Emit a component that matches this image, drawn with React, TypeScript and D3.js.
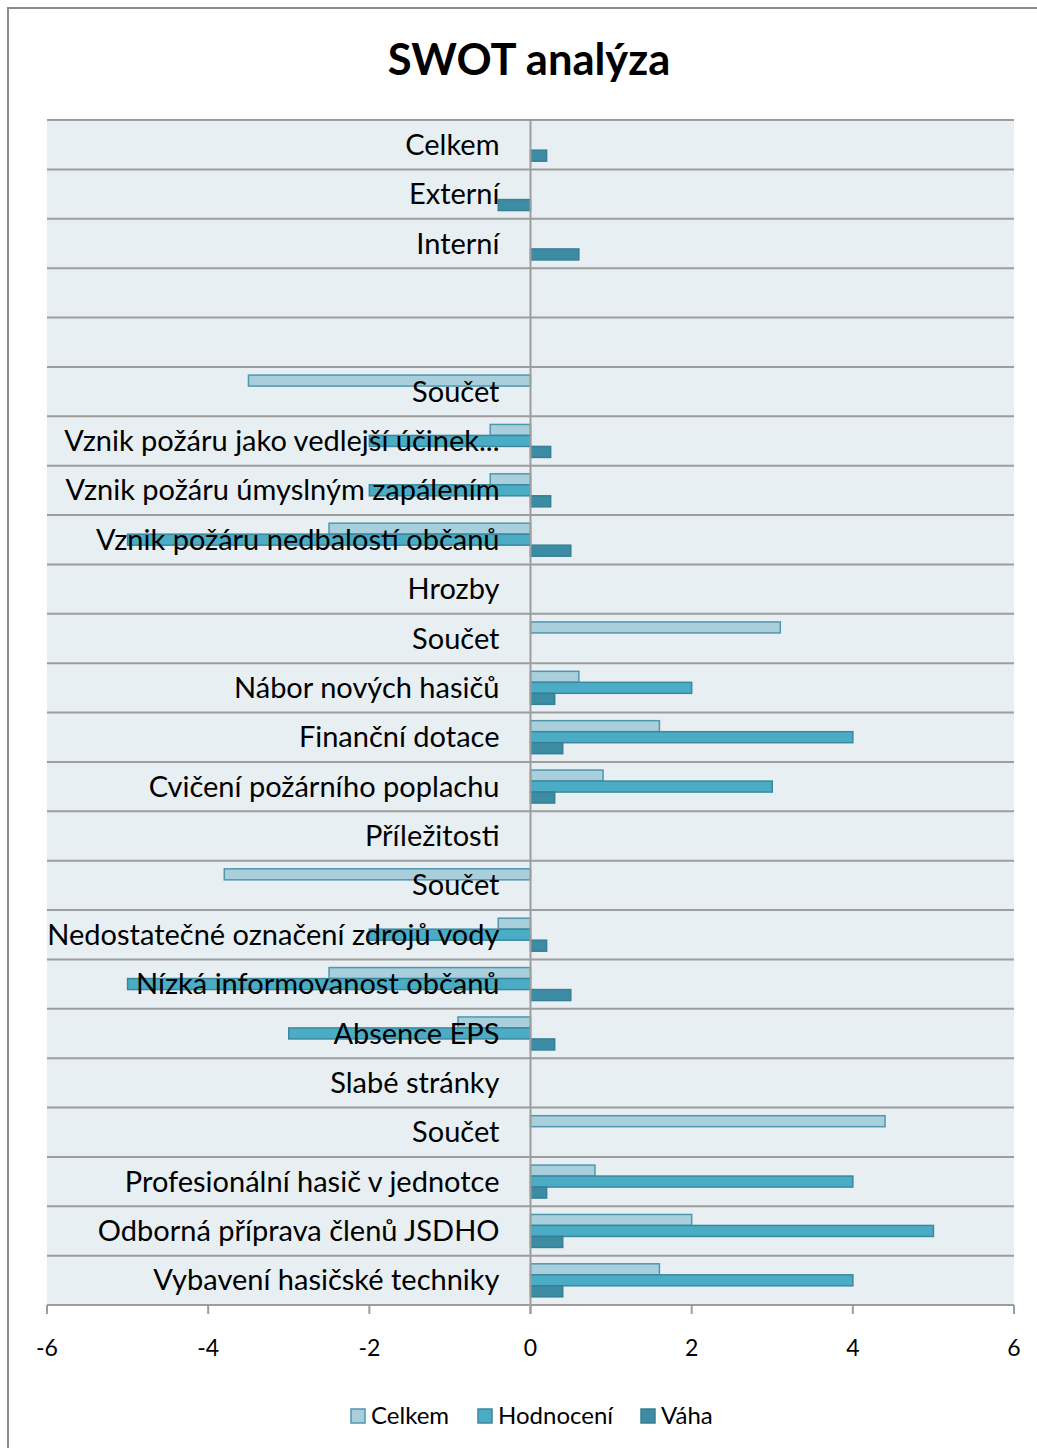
import React from "react";
import * as d3 from "d3";

// categories top to bottom, as on the chart
const categories = [
  "Celkem",
  "Externí",
  "Interní",
  "",
  "",
  "Součet",
  "Vznik požáru jako vedlejší účinek...",
  "Vznik požáru úmyslným zapálením",
  "Vznik požáru nedbalostí občanů",
  "Hrozby",
  "Součet",
  "Nábor nových hasičů",
  "Finanční dotace",
  "Cvičení požárního poplachu",
  "Příležitosti",
  "Součet",
  "Nedostatečné označení zdrojů vody",
  "Nízká informovanost občanů",
  "Absence EPS",
  "Slabé stránky",
  "Součet",
  "Profesionální hasič v jednotce",
  "Odborná příprava členů JSDHO",
  "Vybavení hasičské techniky",
];

const celkem = [null, null, null, null, null, -3.5, -0.5, -0.5, -2.5, null, 3.1, 0.6, 1.6, 0.9, null, -3.8, -0.4, -2.5, -0.9, null, 4.4, 0.8, 2, 1.6];
const hodnoceni = [null, null, null, null, null, null, -2, -2, -5, null, null, 2, 4, 3, null, null, -2, -5, -3, null, null, 4, 5, 4];
const vaha = [0.2, -0.4, 0.6, null, null, null, 0.25, 0.25, 0.5, null, null, 0.3, 0.4, 0.3, null, null, 0.2, 0.5, 0.3, null, null, 0.2, 0.4, 0.4];

const seriesNames = ["Celkem", "Hodnocení", "Váha"];
const xTicks = [-6, -4, -2, 0, 2, 4, 6];

const seriesStyle = [
  { fill: "#a9cfdd", stroke: "#4f97ad" },
  { fill: "#4bacc6", stroke: "#3a889f" },
  { fill: "#3c8ca4", stroke: "#377f95" },
];

const W = 1037;
const H = 1448;
const plot = { left: 47, right: 1014, top: 120, bottom: 1305 };
const FONT = "Lato, 'Open Sans', sans-serif";

export default function App() {
  const x = d3.scaleLinear().domain([-6, 6]).range([plot.left, plot.right]);
  const y = d3
    .scaleBand<number>()
    .domain(d3.range(categories.length))
    .range([plot.top, plot.bottom]);
  // three bars per category, gap width roughly 150%
  const inner = d3
    .scaleBand<number>()
    .domain([0, 1, 2])
    .range([0, y.bandwidth()])
    .paddingInner(0)
    .paddingOuter(0.745);

  const series = [celkem, hodnoceni, vaha];
  const gridYs = d3.range(categories.length + 1).map((i) => plot.top + i * y.step());

  const legendItems = [
    { x: 351, name: seriesNames[0] },
    { x: 478, name: seriesNames[1] },
    { x: 641, name: seriesNames[2] },
  ];

  return (
    <svg
      width={W}
      height={H}
      style={{ position: "absolute", left: 0, top: 0, background: "#fff" }}
      fontFamily={FONT}
    >
      {/* chart frame (runs past the picture edge) */}
      <rect x={8} y={8} width={W + 20} height={H + 20} fill="#fff" stroke="#8c8c8c" strokeWidth={2} />

      <text x={529} y={75} textAnchor="middle" fontSize={43.5} fontWeight="bold" fill="#000">
        SWOT analýza
      </text>

      <rect x={plot.left} y={plot.top} width={plot.right - plot.left} height={plot.bottom - plot.top} fill="#e8eff2" />

      {gridYs.map((gy, i) => (
        <line key={i} x1={plot.left} x2={plot.right} y1={gy} y2={gy} stroke="#9d9d9d" strokeWidth={2} />
      ))}

      {/* ticks */}
      {xTicks.map((t) => (
        <g key={t}>
          <line x1={x(t)} x2={x(t)} y1={plot.bottom} y2={plot.bottom + 9} stroke="#9d9d9d" strokeWidth={2} />
          <text x={x(t)} y={plot.bottom + 51} textAnchor="middle" fontSize={23} fill="#000">
            {t}
          </text>
        </g>
      ))}

      {/* bars */}
      {series.map((vals, s) =>
        vals.map((v, i) => {
          if (v == null) return null;
          const x0 = Math.min(x(0), x(v));
          const w = Math.abs(x(v) - x(0));
          return (
            <rect
              key={`${s}-${i}`}
              x={x0}
              y={(y(i) ?? 0) + (inner(s) ?? 0)}
              width={w}
              height={inner.bandwidth()}
              fill={seriesStyle[s].fill}
              stroke={seriesStyle[s].stroke}
              strokeWidth={1.5}
            />
          );
        })
      )}

      {/* zero axis */}
      <line x1={x(0)} x2={x(0)} y1={plot.top} y2={plot.bottom + 9} stroke="#9d9d9d" strokeWidth={2} />

      {/* category labels drawn above the bars */}
      {categories.map((c, i) => (
        <text
          key={i}
          x={x(0) - 31}
          y={(y(i) ?? 0) + y.bandwidth() / 2}
          dy="0.35em"
          textAnchor="end"
          fontSize={29}
          fill="#000"
        >
          {c}
        </text>
      ))}

      {/* legend */}
      {legendItems.map((it, s) => (
        <g key={it.name}>
          <rect x={it.x} y={1409} width={14} height={14} fill={seriesStyle[s].fill} stroke={seriesStyle[s].stroke} strokeWidth={1.5} />
          <text x={it.x + 20} y={1416} dy="0.35em" fontSize={24} fill="#000">
            {it.name}
          </text>
        </g>
      ))}
    </svg>
  );
}
